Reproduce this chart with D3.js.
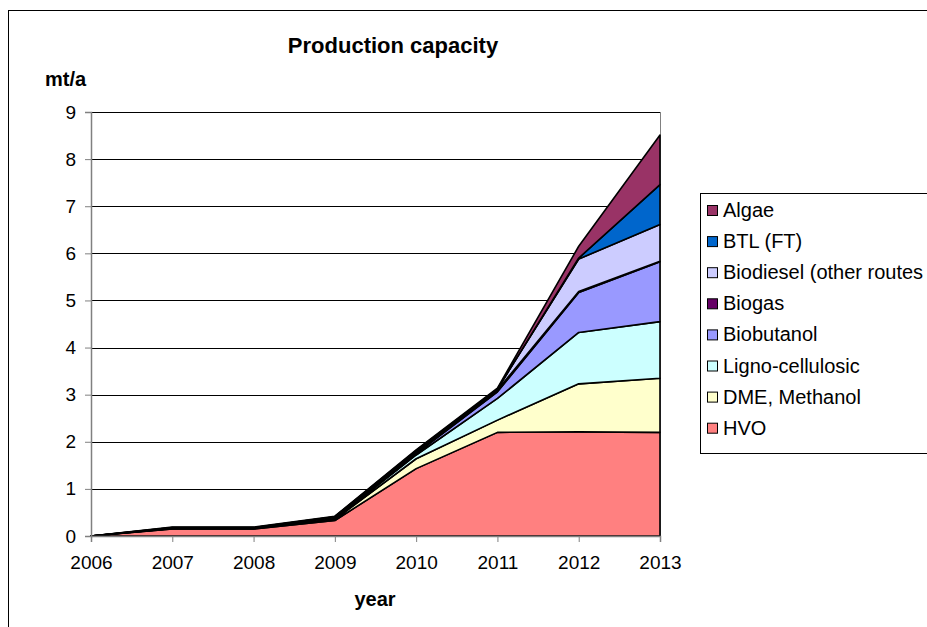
<!DOCTYPE html>
<html>
<head>
<meta charset="utf-8">
<script src="https://cdn.jsdelivr.net/npm/d3@7"></script>
<style>
  body { margin: 0; background: #fff; }
  svg { font-family: 'Liberation Sans', Arial, sans-serif; }
</style>
</head>
<body>
<svg width="927" height="627"></svg>
<script>
// years on the x axis
const years = [ 2006, 2007, 2008, 2009, 2010, 2011, 2012, 2013 ]

// series values in mt/a, bottom of the stack first
const hvo        = [ 0, 0.15, 0.15, 0.33, 1.43, 2.2, 2.21, 2.2 ]
const dme        = [ 0, 0.01, 0.01, 0.02, 0.21, 0.26, 1.02, 1.15 ]
const ligno      = [ 0, 0.0, 0.0, 0.01, 0.08, 0.46, 1.09, 1.2 ]
const biobutanol = [ 0, 0.0, 0.0, 0.01, 0.03, 0.14, 0.85, 1.27 ]
const biogas     = [ 0, 0.01, 0.01, 0.02, 0.03, 0.04, 0.02, 0.01 ]
const biodiesel  = [ 0, 0.01, 0.01, 0.02, 0.03, 0.02, 0.69, 0.78 ]
const btl        = [ 0, 0, 0, 0, 0, 0, 0.02, 0.85 ]
const algae      = [ 0, 0.01, 0.01, 0.01, 0.02, 0.02, 0.25, 1.05 ]

const seriesNames = [ 'HVO', 'DME, Methanol', 'Ligno-cellulosic', 'Biobutanol', 'Biogas', 'Biodiesel (other routes', 'BTL (FT)', 'Algae' ]
const seriesValues = [ hvo, dme, ligno, biobutanol, biogas, biodiesel, btl, algae ]
const seriesColors = [ '#ff8080', '#ffffcc', '#ccffff', '#9999ff', '#660066', '#ccccff', '#0066cc', '#993366' ]
const yTicks = [ 0, 1, 2, 3, 4, 5, 6, 7, 8, 9 ]

const svg = d3.select( 'svg' ),
	margin = { left: 91, right: 267, top: 112, bottom: 91 },
	width = 927 - margin.left - margin.right,
	height = 627 - margin.top - margin.bottom

// outer chart frame (runs off the right and bottom edge)
svg.append( 'rect' )
	.attr( 'x', 8.5 ).attr( 'y', 10.5 )
	.attr( 'width', 940 ).attr( 'height', 640 )
	.attr( 'fill', '#fff' ).attr( 'stroke', '#000' ).attr( 'stroke-width', 1 )

const rows = years.map( ( y, i ) => {
	const r = { year: y }
	seriesNames.forEach( ( n, j ) => r[ n ] = seriesValues[ j ][ i ] )
	return r
})

const stack = d3.stack().keys( seriesNames )( rows )

const x = d3.scaleLinear().domain( d3.extent( years ) ).range( [ 0, width ] ),
	y = d3.scaleLinear().domain( [ 0, 9 ] ).range( [ height, 0 ] )

const g = svg.append( 'g' ).attr( 'transform', `translate(${margin.left},${margin.top})` )

// gridlines
g.append( 'g' )
	.selectAll( 'line' )
	.data( yTicks.filter( d => d > 0 ) )
	.enter().append( 'line' )
	.attr( 'x1', 0 ).attr( 'x2', width )
	.attr( 'y1', d => Math.round( y( d ) ) + 0.5 ).attr( 'y2', d => Math.round( y( d ) ) + 0.5 )
	.attr( 'stroke', '#000' ).attr( 'stroke-width', 1 )

// right border of plot area
g.append( 'line' )
	.attr( 'x1', width + 0.5 ).attr( 'x2', width + 0.5 )
	.attr( 'y1', 0 ).attr( 'y2', height )
	.attr( 'stroke', '#808080' )

const area = d3.area()
	.x( d => x( d.data.year ) )
	.y0( d => y( d[ 0 ] ) )
	.y1( d => y( d[ 1 ] ) )

g.append( 'g' )
	.selectAll( 'path' )
	.data( stack )
	.enter().append( 'path' )
	.attr( 'd', area )
	.attr( 'fill', ( d, i ) => seriesColors[ i ] )
	.attr( 'stroke', '#000' )
	.attr( 'stroke-width', 1.6 )
	.attr( 'stroke-linejoin', 'round' )

// axes
const xAxis = g.append( 'g' )
	.attr( 'transform', `translate(0,${height})` )
	.call( d3.axisBottom( x ).tickValues( years ).tickFormat( d3.format( 'd' ) ).tickSize( 6 ).tickPadding( 14 ) )

const yAxis = g.append( 'g' )
	.call( d3.axisLeft( y ).tickValues( yTicks ).tickSize( 6 ).tickPadding( 9 ) )

for ( const ax of [ xAxis, yAxis ] ) {
	ax.select( '.domain' ).attr( 'stroke', '#808080' ).attr( 'stroke-width', 1.5 )
	ax.selectAll( '.tick line' ).attr( 'stroke', '#808080' )
	ax.selectAll( 'text' ).attr( 'font-size', 19 ).attr( 'fill', '#000' )
		.attr( 'font-family', "'Liberation Sans', Arial, sans-serif" )
}

// titles
svg.append( 'text' )
	.attr( 'x', 393 ).attr( 'y', 53 )
	.attr( 'text-anchor', 'middle' )
	.attr( 'font-size', 22 ).attr( 'font-weight', 'bold' )
	.text( 'Production capacity' )

svg.append( 'text' )
	.attr( 'x', 45 ).attr( 'y', 86 )
	.attr( 'font-size', 20 ).attr( 'font-weight', 'bold' )
	.text( 'mt/a' )

svg.append( 'text' )
	.attr( 'x', 375 ).attr( 'y', 606 )
	.attr( 'text-anchor', 'middle' )
	.attr( 'font-size', 20 ).attr( 'font-weight', 'bold' )
	.text( 'year' )

// legend, top entry is the last series
const legend = svg.append( 'g' )

legend.append( 'rect' )
	.attr( 'x', 700.5 ).attr( 'y', 193.5 )
	.attr( 'width', 240 ).attr( 'height', 260 )
	.attr( 'fill', '#fff' ).attr( 'stroke', '#000' )

const items = seriesNames.map( ( n, i ) => ( { name: n, color: seriesColors[ i ] } ) ).reverse()

const item = legend.selectAll( 'g.item' )
	.data( items )
	.enter().append( 'g' )
	.attr( 'class', 'item' )
	.attr( 'transform', ( d, i ) => `translate(707,${ 210 + i * 31.1 })` )

item.append( 'rect' )
	.attr( 'x', 0.5 ).attr( 'y', -4.5 )
	.attr( 'width', 10 ).attr( 'height', 10 )
	.attr( 'fill', d => d.color ).attr( 'stroke', '#000' )

item.append( 'text' )
	.attr( 'x', 16 ).attr( 'y', 0 )
	.attr( 'dy', '0.35em' )
	.attr( 'font-size', 20 )
	.text( d => d.name )
</script>
</body>
</html>
